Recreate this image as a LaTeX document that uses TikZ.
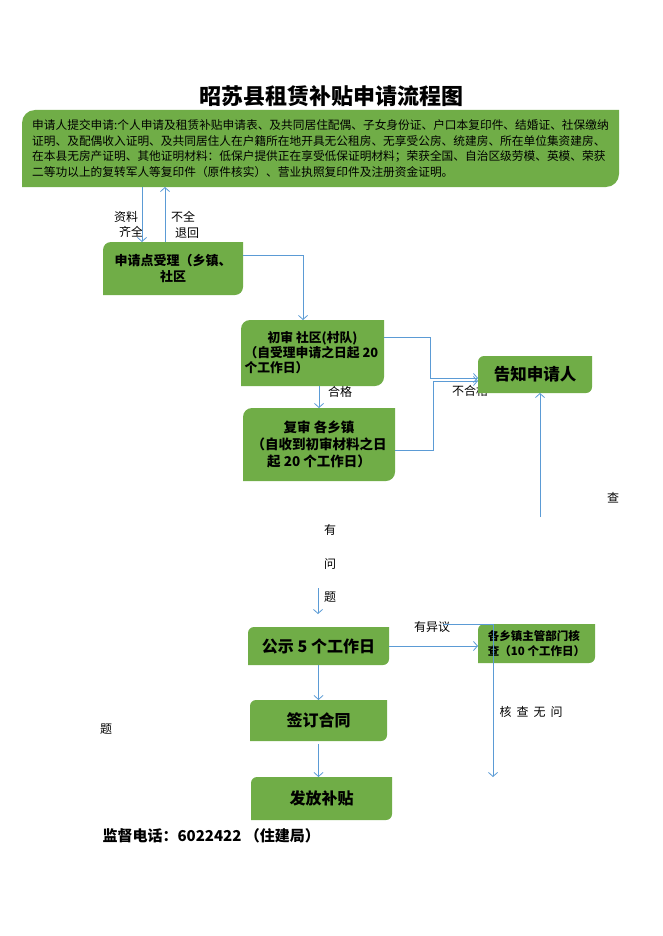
\documentclass[tikz,border=0pt]{standalone}
\usepackage{fontspec}
\setmainfont{Noto Sans CJK SC}
\usetikzlibrary{arrows.meta,calc,backgrounds}
\definecolor{boxgreen}{RGB}{112,173,71}
\definecolor{linkblue}{RGB}{91,155,213}
% green box with round top-left and bottom-right corners
\newcommand{\gfill}[2]{\fill[boxgreen] ($(#1.north west)+(0,#2)$) arc[start angle=180,end angle=270,radius=#2] -- (#1.north east) -- ($(#1.south east)+(0,-#2)$) arc[start angle=0,end angle=90,radius=#2] -- (#1.south west) -- cycle;}

\begin{document}
\begin{tikzpicture}[x=1pt,y=-1pt,
	gbox/.style={inner sep=0pt, outer sep=0pt},
	lbl/.style={font=\fontsize{12}{14}\selectfont},
	link/.style={draw=linkblue, line width=0.8pt, -{Straight Barb[length=4pt,width=9pt]}}]

\useasboundingbox (0,0) rectangle (662,936);

\node[font=\fontsize{22}{26}\selectfont\bfseries] (title) at (331,96) {昭苏县租赁补贴申请流程图};

\node[gbox, font=\fontsize{11.7}{15.6}\selectfont, align=left, minimum width=597pt, minimum height=77pt] (top) at (320.5,148.5)
{申请人提交申请:个人申请及租赁补贴申请表、及共同居住配偶、子女身份证、户口本复印件、结婚证、社保缴纳\\
证明、及配偶收入证明、及共同居住人在户籍所在地开具无公租房、无享受公房、统建房、所在单位集资建房、\\
在本县无房产证明、其他证明材料：低保户提供正在享受低保证明材料；荣获全国、自治区级劳模、英模、荣获\\
二等功以上的复转军人等复印件（原件核实）、营业执照复印件及注册资金证明。};

\node[gbox, font=\fontsize{13}{16}\selectfont\bfseries, align=center, minimum width=140pt, minimum height=53pt] (slzl) at (173,268.5) {申请点受理（乡镇、\\社区};
\node[gbox, font=\fontsize{12.8}{15}\selectfont\bfseries, align=left, minimum width=143pt, minimum height=66pt] (cs) at (312.5,353) {\makebox[136pt]{初审 社区(村队)}\\（自受理申请之日起 20\\个工作日）};
\node[gbox, font=\fontsize{13.5}{17}\selectfont\bfseries, align=center, minimum width=152pt, minimum height=73pt] (fs) at (319,444.5) {复审 各乡镇\\（自收到初审材料之日\\起 20 个工作日）};

\node[gbox, font=\fontsize{16.5}{20}\selectfont\bfseries, minimum width=114pt, minimum height=37pt] (gz) at (535,374.5) {告知申请人};

\node[gbox, font=\fontsize{16}{20}\selectfont\bfseries, minimum width=141pt, minimum height=38pt] (gs) at (318.5,646) {公示 5 个工作日};
\node[gbox, font=\fontsize{11.5}{15}\selectfont\bfseries, align=left, minimum width=117pt, minimum height=39pt] (hc) at (536.5,643.5) {各乡镇主管部门核\\查（10 个工作日）};
\node[gbox, font=\fontsize{16}{20}\selectfont\bfseries, minimum width=137pt, minimum height=41pt] (qd) at (318.5,720.5) {签订合同};
\node[gbox, font=\fontsize{16}{20}\selectfont\bfseries, minimum width=141pt, minimum height=43pt] (ff) at (321.5,798.5) {发放补贴};

\node[anchor=west, font=\fontsize{15}{18}\selectfont\bfseries] (dh) at (99,836) {监督电话：6022422 （住建局）};

\begin{scope}[on background layer]
\node[lbl] (bhg) at (470,391) {不合格};
\foreach \n/\r in {top/13,slzl/8,cs/9,fs/9,gz/6,gs/6,hc/6,qd/6,ff/6}{
	\gfill{\n}{\r}
}
\end{scope}

% labels
\node[lbl] (zl) at (126,217) {资料};
\node[lbl] (qq) at (131,232) {齐全};
\node[lbl] (bq) at (183,217) {不全};
\node[lbl] (th) at (187,233) {退回};
\node[lbl] (hg) at (340,392) {合格};
\foreach \t/\y [count=\i] in {有/530,问/564,题/597}
	\node[lbl] (yw\i) at (330,\y) {\t};
\node[lbl] (yyy) at (432,627) {有异议};
\node[lbl] (cha) at (613,498) {查};
\node[lbl, anchor=west] (hcwt) at (496,712) {核\hspace{5pt}查\hspace{5pt}无\hspace{5pt}问};
\node[lbl] (ti) at (106,729) {题};

\coordinate (gzin) at (540,517);
\coordinate (wt) at (318,588);
\coordinate (hc1) at (443,624);
\coordinate (hc2) at (493,624);
\coordinate (hc3) at (493,777);

% arrows
\draw[link] (142,0 |- top.south) -- (142,0 |- slzl.north);
\draw[link] (165,0 |- slzl.north) -- (165,0 |- top.south);
\draw[link] (slzl.east |- 0,255) -| (303,0 |- cs.north);
\draw[link] (319,0 |- cs.south) -- (319,0 |- fs.north);
\draw[link] (cs.east |- 0,337) -- (430,337) -- (430,378) -- (gz.west |- 0,378);
\draw[link] (fs.east |- 0,450) -- (433,450) -- (433,381) -- (gz.west |- 0,381);
\draw[link] (gzin) -- (gzin |- gz.south);
\draw[link] (wt) -- ([yshift=13pt]wt |- gs.north);
\draw[link] (gs.east) -- (gs.east -| hc.west);
\draw[link] (gs.south) -- (gs.south |- qd.north);
\draw[link] ([yshift=-3pt]qd.south) -- (qd.south |- ff.north);
\draw[link] (hc1) -- (hc2) -- (hc3);

\end{tikzpicture}
\end{document}
